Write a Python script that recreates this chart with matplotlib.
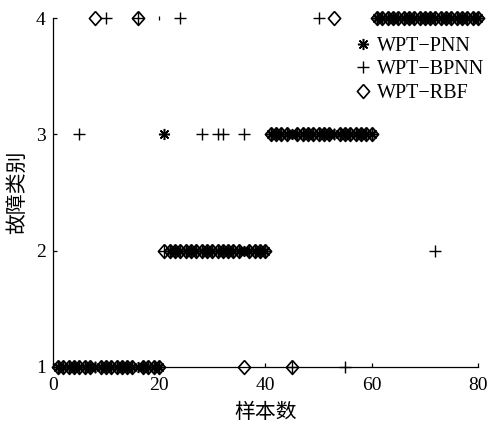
import matplotlib
matplotlib.use("Agg")
import matplotlib.pyplot as plt
import numpy as np

# sample index 1..80
samples = list(range(1, 81))

# predicted fault class per sample
pnn_pred = [1, 1, 1, 1, 1, 1, 1, 1, 1, 1, 1, 1, 1, 1, 1, 1, 1, 1, 1, 1,
            3, 2, 2, 2, 2, 2, 2, 2, 2, 2, 2, 2, 2, 2, 2, 2, 2, 2, 2, 2,
            3, 3, 3, 3, 3, 3, 3, 3, 3, 3, 3, 3, 3, 3, 3, 3, 3, 3, 3, 3,
            4, 4, 4, 4, 4, 4, 4, 4, 4, 4, 4, 4, 4, 4, 4, 4, 4, 4, 4, 4]
bpnn_pred = [1, 1, 1, 1, 3, 1, 1, 1, 1, 4, 1, 1, 1, 1, 1, 4, 1, 1, 1, 1,
             2, 2, 2, 4, 2, 2, 2, 3, 2, 2, 3, 3, 2, 2, 2, 3, 2, 2, 2, 2,
             3, 3, 3, 3, 1, 3, 3, 3, 3, 4, 3, 3, 3, 3, 1, 3, 3, 3, 3, 3,
             4, 4, 4, 4, 4, 4, 4, 4, 4, 4, 4, 2, 4, 4, 4, 4, 4, 4, 4, 4]
rbf_pred = [1, 1, 1, 1, 1, 1, 1, 4, 1, 1, 1, 1, 1, 1, 1, 4, 1, 1, 1, 1,
            2, 2, 2, 2, 2, 2, 2, 2, 2, 2, 2, 2, 2, 2, 2, 1, 2, 2, 2, 2,
            3, 3, 3, 3, 1, 3, 3, 3, 3, 3, 3, 3, 4, 3, 3, 3, 3, 3, 3, 3,
            4, 4, 4, 4, 4, 4, 4, 4, 4, 4, 4, 4, 4, 4, 4, 4, 4, 4, 4, 4]

# a small stray mark in the original figure
stray_x = [20]
stray_y = [4]

x_ticks = [0, 20, 40, 60, 80]
y_ticks = [1, 2, 3, 4]

serif = ["Liberation Serif", "DejaVu Serif"]
cjk = ["Noto Sans CJK SC", "DejaVu Sans"]

diamond = [(0, 1), (0.88, 0), (0, -1), (-0.88, 0), (0, 1)]

fig = plt.figure(figsize=(4.89, 4.25), dpi=100)
ax = fig.add_axes([0.1078, 0.1365, 0.8697, 0.8211])

ax.plot(samples, pnn_pred, linestyle="none", marker=(8, 2, 0), markersize=8,
        markeredgewidth=1.1, color="black", clip_on=False, label="WPT\u2212PNN")
ax.plot(samples, bpnn_pred, linestyle="none", marker="+", markersize=8,
        markeredgewidth=1.0, color="black", clip_on=False, label="WPT\u2212BPNN")
ax.plot(samples, rbf_pred, linestyle="none", marker=diamond, markersize=10,
        markeredgewidth=1.2, markerfacecolor="none", color="black",
        clip_on=False, label="WPT\u2212RBF")
ax.plot(stray_x, stray_y, linestyle="none", marker="|", markersize=3,
        markeredgewidth=0.9, color="black", clip_on=False)

ax.set_xlim(0, 80)
ax.set_ylim(1, 4)
ax.set_xticks(x_ticks)
ax.set_yticks(y_ticks)
ax.spines["top"].set_visible(False)
ax.spines["right"].set_visible(False)
for side in ("left", "bottom"):
    ax.spines[side].set_linewidth(0.9)
ax.tick_params(direction="in", length=3, width=0.9, labelsize=14)
ax.tick_params(axis="x", pad=7)
ax.tick_params(axis="y", pad=5)
for lab in ax.get_xticklabels() + ax.get_yticklabels():
    lab.set_family(serif)

ax.set_xlabel("样本数", family=cjk, fontsize=15)
ax.set_ylabel("故障类别", family=cjk, fontsize=15)
ax.xaxis.set_label_coords(0.5, -0.097)
ax.yaxis.set_label_coords(-0.058, 0.5)

ax.legend(loc="upper right", bbox_to_anchor=(1.015, 0.945), frameon=False,
          prop={"family": serif, "size": 14.5}, borderaxespad=0, borderpad=0,
          handlelength=0.7, handletextpad=0.35, labelspacing=0.2,
          markerscale=1.0)

fig.savefig("out.png", dpi=100)
